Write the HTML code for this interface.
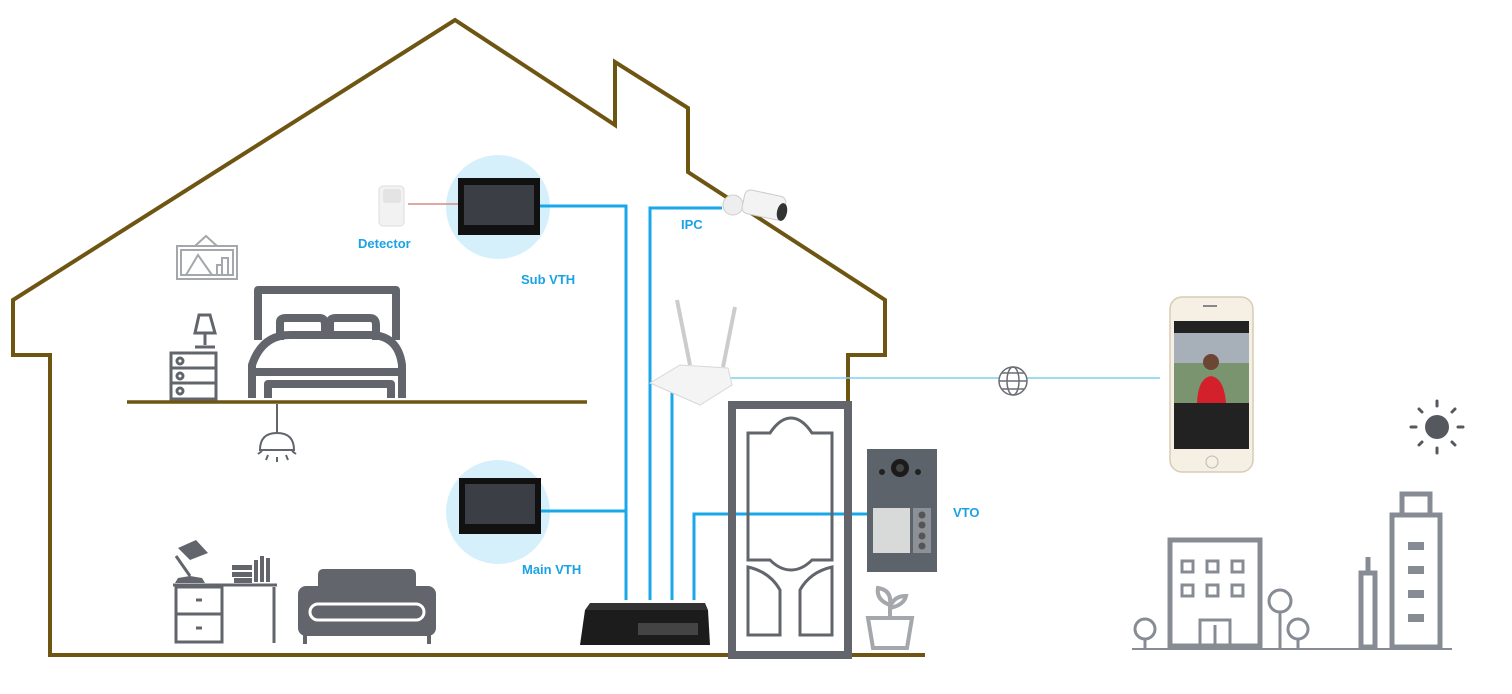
<!DOCTYPE html>
<html><head><meta charset="utf-8"><style>
html,body{margin:0;padding:0;background:#fff;}
svg{display:block;}
text{font-family:"Liberation Sans",sans-serif;font-weight:bold;font-size:13px;fill:#1aa2e6;}
</style></head><body>
<svg width="1512" height="694" viewBox="0 0 1512 694" xmlns="http://www.w3.org/2000/svg">
<!-- house outline -->
<polyline points="50,655 50,355 13,355 13,300 455,20 615,125 615,62 688,108 688,172 885,300 885,355 848,355 848,402" fill="none" stroke="#6e5512" stroke-width="4"/>
<line x1="48" y1="655" x2="925" y2="655" stroke="#6e5512" stroke-width="4"/>
<line x1="127" y1="402" x2="587" y2="402" stroke="#6e5512" stroke-width="3.5"/>

<!-- picture -->
<g stroke="#a4a7ab" stroke-width="2" fill="none">
<rect x="177" y="246" width="60" height="33"/>
<rect x="181" y="250" width="52" height="25"/>
<polyline points="195,246 206,236 217,246"/>
<polyline points="186,275 198,255 212,275"/>
<rect x="217" y="265" width="5" height="10"/><rect x="222" y="258" width="6" height="17"/>
</g>
<!-- nightstand & lamp -->
<g stroke="#62666c" stroke-width="3" fill="none">
<rect x="171" y="353" width="45" height="46"/>
<line x1="171" y1="368" x2="216" y2="368"/><line x1="171" y1="383" x2="216" y2="383"/>
<circle cx="180" cy="361" r="3"/><circle cx="180" cy="376" r="3"/><circle cx="180" cy="391" r="3"/>
<path d="M195,333 L199,315 L210,315 L215,333 Z"/>
<line x1="205" y1="333" x2="205" y2="345"/><line x1="195" y1="347" x2="215" y2="347"/>
</g>
<!-- bed -->
<g stroke="#62666c" stroke-width="8" fill="none" stroke-linejoin="round">
<path d="M258,340 L258,290 L396,290 L396,340"/>
<path d="M280,340 L280,322 Q280,318 286,318 L320,318 Q325,318 325,325 L325,334"/>
<path d="M330,334 L330,322 Q330,318 336,318 L370,318 Q376,318 376,325 L376,340"/>
<path d="M252,398 L252,365 Q262,335 290,335 L370,335 Q398,335 402,365 L402,398"/>
<line x1="252" y1="372" x2="402" y2="372"/>
<path d="M268,398 L268,384 L391,384 L391,398"/>
</g>
<!-- ceiling lamp -->
<g stroke="#62666c" stroke-width="2" fill="none">
<line x1="277" y1="404" x2="277" y2="433"/>
<path d="M260,450 Q260,433 277,433 Q294,433 294,450 Z"/>
<line x1="277" y1="457" x2="277" y2="462"/><line x1="268" y1="455" x2="266" y2="460"/><line x1="286" y1="455" x2="288" y2="460"/>
<line x1="262" y1="451" x2="258" y2="454"/><line x1="292" y1="451" x2="296" y2="454"/>
</g>
<!-- desk -->
<g stroke="#62666c" stroke-width="3" fill="none">
<line x1="173" y1="585" x2="277" y2="585"/>
<rect x="176" y="587" width="46" height="55"/>
<line x1="176" y1="614" x2="222" y2="614"/>
<line x1="274" y1="587" x2="274" y2="643"/>
<line x1="196" y1="600" x2="202" y2="600"/><line x1="196" y1="628" x2="202" y2="628"/>
</g>
<g fill="#62666c">
<path d="M175,583 L205,583 L202,578 L190,576 L178,578 Z"/>
<line x1="190" y1="576" x2="176" y2="556" stroke="#62666c" stroke-width="3"/>
<path d="M178,548 L196,540 L208,553 L190,560 Z"/>
<rect x="232" y="565" width="20" height="5"/><rect x="232" y="572" width="20" height="5"/><rect x="234" y="578" width="18" height="5"/>
<rect x="254" y="560" width="4" height="22"/><rect x="260" y="556" width="4" height="26"/><rect x="266" y="558" width="4" height="24"/>
</g>
<!-- sofa -->
<g fill="#62666c">
<rect x="318" y="569" width="98" height="42" rx="5"/>
<rect x="298" y="586" width="138" height="50" rx="8"/>
<rect x="303" y="635" width="4" height="9"/><rect x="427" y="635" width="4" height="9"/>
</g>
<rect x="310" y="604" width="114" height="16" rx="8" fill="none" stroke="#fff" stroke-width="3"/>

<!-- blue circles -->
<circle cx="498" cy="207" r="52" fill="#d6f0fb"/>
<circle cx="498" cy="512" r="52" fill="#d6f0fb"/>

<!-- blue wires -->
<g stroke="#18a8ea" stroke-width="3" fill="none">
<polyline points="540,206 626,206 626,600"/>
<line x1="540" y1="511" x2="626" y2="511"/>
<polyline points="650,600 650,208 722,208"/>
<line x1="672" y1="380" x2="672" y2="600"/>
<polyline points="694,600 694,514 868,514"/>
</g>
<line x1="408" y1="204" x2="459" y2="204" stroke="#d98a7e" stroke-width="1.5"/>
<line x1="730" y1="378" x2="1160" y2="378" stroke="#7fd0f0" stroke-width="1.5"/>

<!-- monitors -->
<rect x="458" y="178" width="82" height="57" fill="#111"/>
<rect x="464" y="185" width="70" height="40" fill="#3b3f45"/>
<rect x="459" y="478" width="82" height="56" fill="#111"/>
<rect x="465" y="484" width="70" height="40" fill="#3b3f45"/>

<!-- detector -->
<rect x="379" y="186" width="25" height="40" rx="4" fill="#f2f2f2" stroke="#ddd"/>
<rect x="383" y="189" width="18" height="14" rx="3" fill="#e4e4e4"/>
<text x="358" y="248">Detector</text>
<text x="521" y="284">Sub VTH</text>
<text x="681" y="229">IPC</text>
<text x="522" y="574">Main VTH</text>
<text x="953" y="517">VTO</text>

<!-- camera -->
<g>
<circle cx="733" cy="205" r="10" fill="#eee" stroke="#ccc"/>
<rect x="743" y="193" width="42" height="24" rx="6" fill="#f3f3f3" stroke="#ccc" transform="rotate(12 764 205)"/>
<ellipse cx="782" cy="212" rx="5" ry="9" fill="#333" transform="rotate(12 782 212)"/>
</g>

<!-- router -->
<g>
<line x1="677" y1="300" x2="690" y2="365" stroke="#ccc" stroke-width="4"/>
<line x1="735" y1="307" x2="723" y2="367" stroke="#ccc" stroke-width="4"/>
<path d="M650,383 L680,365 L728,368 L732,385 L700,405 Z" fill="#f4f4f4" stroke="#d8d8d8"/>
</g>

<!-- globe -->
<g stroke="#6a6e74" stroke-width="1.5" fill="#fff">
<circle cx="1013" cy="381" r="14"/>
<ellipse cx="1013" cy="381" rx="6" ry="14" fill="none"/>
<line x1="999" y1="381" x2="1027" y2="381"/>
<line x1="1002" y1="373" x2="1024" y2="373"/><line x1="1002" y1="389" x2="1024" y2="389"/>
</g>

<!-- door -->
<g stroke="#62666c" fill="none">
<rect x="732" y="405" width="116" height="250" stroke-width="8"/>
<path d="M748,433 L770,433 Q780,418 791,418 Q802,418 812,433 L832,433 L832,560 L812,560 Q802,570 791,570 Q780,570 770,560 L748,560 Z" stroke-width="3"/>
<path d="M748,567 Q770,572 780,590 L780,635 L748,635 Z" stroke-width="3"/>
<path d="M832,567 Q810,572 800,590 L800,635 L832,635 Z" stroke-width="3"/>
</g>

<!-- VTO -->
<rect x="867" y="449" width="70" height="123" fill="#5d636b"/>
<circle cx="900" cy="468" r="9" fill="#1b1b1b"/><circle cx="900" cy="468" r="4" fill="#444"/>
<circle cx="882" cy="472" r="3" fill="#222"/><circle cx="918" cy="472" r="3" fill="#222"/>
<rect x="873" y="508" width="37" height="45" fill="#d8dada"/>
<rect x="913" y="508" width="18" height="45" fill="#8c9197"/>
<circle cx="922" cy="515" r="3.5" fill="#555"/><circle cx="922" cy="525" r="3.5" fill="#555"/><circle cx="922" cy="536" r="3.5" fill="#555"/><circle cx="922" cy="546" r="3.5" fill="#555"/>

<!-- plant -->
<g stroke="#a4a7ab" stroke-width="4" fill="none">
<path d="M868,618 L912,618 L907,648 L873,648 Z"/>
<line x1="890" y1="618" x2="890" y2="603"/>
<path d="M890,605 Q876,600 878,588 Q892,590 890,605"/>
<path d="M890,608 Q904,605 906,596 Q893,596 890,608"/>
</g>

<!-- switch -->
<path d="M585,610 L708,610 L710,645 L580,645 Z" fill="#1c1c1c"/>
<path d="M590,603 L705,603 L708,610 L585,610 Z" fill="#333"/>
<rect x="638" y="623" width="60" height="12" fill="#444"/>

<!-- phone -->
<rect x="1170" y="297" width="83" height="175" rx="12" fill="#f5efe4" stroke="#d8ccb5" stroke-width="1.5"/>
<rect x="1174" y="321" width="75" height="128" fill="#222"/>
<rect x="1174" y="333" width="75" height="70" fill="#7a9470"/>
<rect x="1174" y="333" width="75" height="30" fill="#a7b0b8"/>
<circle cx="1211" cy="362" r="8" fill="#6b4634"/>
<path d="M1197,403 Q1198,378 1211,376 Q1224,378 1226,403 Z" fill="#d4202a"/>
<circle cx="1212" cy="462" r="6" fill="none" stroke="#bbb"/>
<rect x="1203" y="305" width="14" height="2" fill="#888"/>

<!-- sun -->
<g stroke="#55595f" stroke-width="3" stroke-linecap="round">
<circle cx="1437" cy="427" r="12" fill="#55595f" stroke="none"/>
<line x1="1437" y1="401" x2="1437" y2="406"/><line x1="1437" y1="448" x2="1437" y2="453"/>
<line x1="1411" y1="427" x2="1416" y2="427"/><line x1="1458" y1="427" x2="1463" y2="427"/>
<line x1="1419" y1="409" x2="1422" y2="412"/><line x1="1452" y1="442" x2="1455" y2="445"/>
<line x1="1455" y1="409" x2="1452" y2="412"/><line x1="1419" y1="445" x2="1422" y2="442"/>
</g>

<!-- buildings -->
<g stroke="#878c94" stroke-width="5" fill="none">
<line x1="1132" y1="649" x2="1452" y2="649" stroke-width="2"/>
<rect x="1170" y="540" width="90" height="106"/>
<rect x="1182" y="561" width="11" height="11" stroke-width="3"/><rect x="1207" y="561" width="11" height="11" stroke-width="3"/><rect x="1232" y="561" width="11" height="11" stroke-width="3"/>
<rect x="1182" y="585" width="11" height="11" stroke-width="3"/><rect x="1207" y="585" width="11" height="11" stroke-width="3"/><rect x="1232" y="585" width="11" height="11" stroke-width="3"/>
<path d="M1200,646 L1200,620 L1230,620 L1230,646 M1215,625 L1215,646" stroke-width="3"/>
<circle cx="1145" cy="629" r="10" stroke-width="3"/><line x1="1145" y1="639" x2="1145" y2="649" stroke-width="3"/>
<circle cx="1280" cy="601" r="11" stroke-width="3"/><line x1="1280" y1="612" x2="1280" y2="649" stroke-width="3"/>
<circle cx="1298" cy="629" r="10" stroke-width="3"/><line x1="1298" y1="639" x2="1298" y2="649" stroke-width="3"/>
<rect x="1361" y="573" width="14" height="74"/>
<line x1="1368" y1="557" x2="1368" y2="573"/>
<rect x="1392" y="515" width="48" height="132"/>
<rect x="1402" y="494" width="28" height="21"/>
</g>
<g fill="#878c94">
<rect x="1408" y="542" width="16" height="8"/><rect x="1408" y="566" width="16" height="8"/><rect x="1408" y="590" width="16" height="8"/><rect x="1408" y="614" width="16" height="8"/>
</g>
</svg>
</body></html>
